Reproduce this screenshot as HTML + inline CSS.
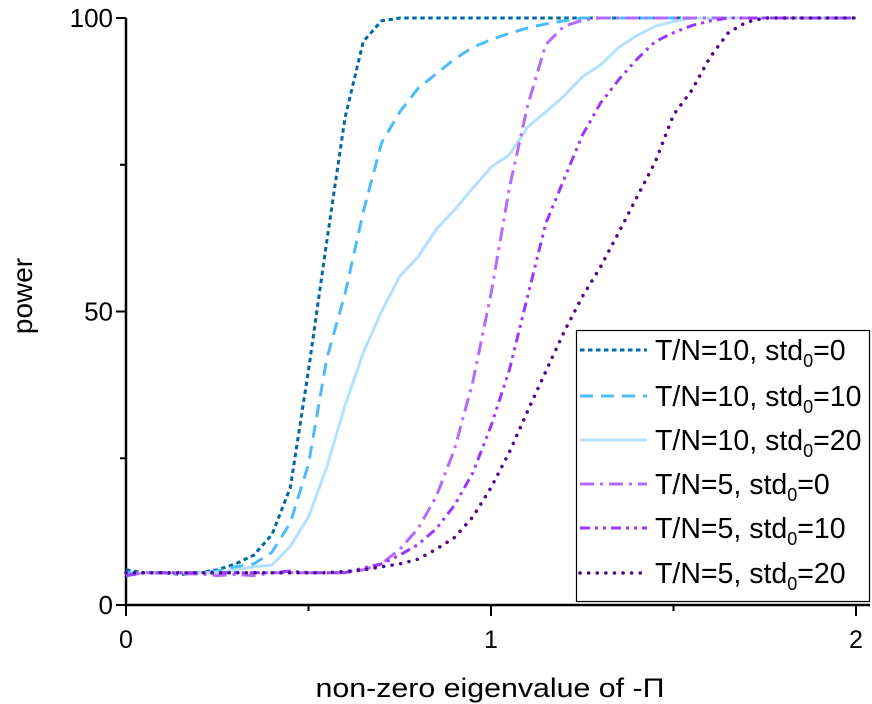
<!DOCTYPE html>
<html><head><meta charset="utf-8"><style>
html,body{margin:0;padding:0;background:#fff;}
svg{display:block;font-family:"Liberation Sans",Arial,sans-serif;}
</style></head><body>
<svg id="chart" width="872" height="704" viewBox="0 0 872 704" xmlns="http://www.w3.org/2000/svg"></svg>
<script>
const xValues = [0,0.05,0.1,0.15,0.2,0.25,0.3,0.35,0.4,0.45,0.5,0.55,0.6,0.65,0.7,0.75,0.8,0.85,0.9,0.95,1.0,1.05,1.1,1.15,1.2,1.25,1.3,1.35,1.4,1.45,1.5,1.55,1.6,1.65,1.7,1.75,1.8,1.85,1.9,1.95,2.0];
const seriesTN10std0  = [6,5.5,5.5,5.2,5.5,6,7,8.5,12,20,40,62,83,96,99.5,100,100,100,100,100,100,100,100,100,100,100,100,100,100,100,100,100,100,100,100,100,100,100,100,100,100];
const seriesTN10std10 = [5.5,5.5,5.5,5.5,5.5,5.8,6.5,7,9,14,24,42,53,67,78.7,84,88,90.5,93,95,96.3,97.4,98.3,99,99.5,100,100,100,100,100,100,100,100,100,100,100,100,100,100,100,100];
const seriesTN10std20 = [5,5.5,5.5,5.5,5.5,5.5,6,6.5,6.8,10,15,23.5,34,43,50,56,59.3,64,67.3,71,74.6,76.7,81.4,84,86.7,90,92,95,97,98.6,99.4,100,100,100,100,100,100,100,100,100,100];
const seriesTN5std0   = [5,5.5,5.5,5.3,5.3,5,5.2,5,5.5,5.5,5.5,5.5,5.5,6,7,9.5,13,18.5,26.5,38,53,71,85,95.5,98.6,99.6,100,100,100,100,100,100,100,100,100,100,100,100,100,100,100];
const seriesTN5std10  = [5,5.5,5.5,5.5,5.5,5.5,5.5,5.5,5.5,5.8,5.5,5.5,5.5,6.3,7,8.5,10.3,13,17,22.5,30.5,40,52.5,65,72.5,80,85.5,89.5,93,96,97.5,98.7,99.5,100,100,100,100,100,100,100,100];
const seriesTN5std20  = [5.5,5.5,5.5,5.5,5.5,5.5,5.5,5.5,5.5,5.5,5.5,5.5,5.7,6,6.5,7,7.8,9.5,11.5,15,20,26,33,39.8,46.5,52.5,57.6,63.5,69.5,75.5,83.5,87.7,93.3,97.5,99.3,100,100,100,100,100,100];
const xTickValues = [0,1,2];
const xTickLabels = ["0","1","2"];
const xMinorTicks = [0.5,1.5];
const yTickValues = [0,50,100];
const yTickLabels = ["0","50","100"];
const yMinorTicks = [25,75];
const legendLabels = ["T/N=10, std", "T/N=10, std", "T/N=10, std", "T/N=5, std", "T/N=5, std", "T/N=5, std"];
const legendSuffix = ["=0","=10","=20","=0","=10","=20"];

const NS = "http://www.w3.org/2000/svg";
const svg = document.getElementById('chart');
const X0 = 126, X1 = 856, Y0 = 605, Y1 = 18;
function xScale(v){ return X0 + (v - 0) / 2 * (X1 - X0); }
function yScale(v){ return Y0 - v / 100 * (Y0 - Y1); }
function mk(tag, attrs, parent){
  const e = document.createElementNS(NS, tag);
  for (const k in attrs) e.setAttribute(k, attrs[k]);
  (parent || svg).appendChild(e);
  return e;
}

const styles = [
  {name:'line-tn10-std0', color:'#0069a8', dash:'4.5,3.5', cap:'butt', w:3},
  {name:'line-tn10-std10', color:'#4cbcff', dash:'13,8', cap:'butt', w:3},
  {name:'line-tn10-std20', color:'#b4e1ff', dash:'', cap:'butt', w:3},
  {name:'line-tn5-std0', color:'#b36bff', dash:'14,6,3,6', cap:'butt', w:3},
  {name:'line-tn5-std10', color:'#9a38ff', dash:'10,5,3,5,3,5', cap:'butt', w:3},
  {name:'line-tn5-std20', color:'#4a0a8c', dash:'0.1,8.5', cap:'round', w:3.5}
];
const allSeries = [seriesTN10std0, seriesTN10std10, seriesTN10std20, seriesTN5std0, seriesTN5std10, seriesTN5std20];

const axes = mk('g', {});


const yAxis = mk('line', {x1:X0, y1:Y1, x2:X0, y2:Y0+1, stroke:'#000', 'stroke-width':2.5}, axes);


const xAxis = mk('line', {x1:X0-1, y1:Y0, x2:X1+14, y2:Y0, stroke:'#000', 'stroke-width':2.5}, axes);



xTickValues.forEach((v,i)=>{
  const t = mk('line', {x1:xScale(v), y1:Y0, x2:xScale(v), y2:Y0+11, stroke:'#000','stroke-width':2}, axes);
  
  
  const l = mk('text', {x:xScale(v), y:648, 'font-size':25, 'text-anchor':'middle', fill:'#000'}, axes);
  l.textContent = xTickLabels[i];
  
  
});
xMinorTicks.forEach(v=>{
  const t = mk('line', {x1:xScale(v), y1:Y0, x2:xScale(v), y2:Y0+6, stroke:'#000','stroke-width':2}, axes);
  
  
});
yTickValues.forEach((v,i)=>{
  const t = mk('line', {x1:X0-10, y1:yScale(v), x2:X0, y2:yScale(v), stroke:'#000','stroke-width':2}, axes);
  
  
  const l = mk('text', {x:X0-13, y:yScale(v)+9, 'font-size':26, 'text-anchor':'end', fill:'#000'}, axes);
  l.textContent = yTickLabels[i];
  
  
});
yMinorTicks.forEach(v=>{
  const t = mk('line', {x1:X0-6, y1:yScale(v), x2:X0, y2:yScale(v), stroke:'#000','stroke-width':2}, axes);
  
  
});
const xt = mk('text', {x:490, y:697, 'font-size':27, 'text-anchor':'middle', fill:'#000', textLength:349, lengthAdjust:'spacingAndGlyphs'});
xt.textContent = 'non-zero eigenvalue of -Π';


const yt = mk('text', {x:0, y:0, 'font-size':28, 'text-anchor':'middle', fill:'#000', transform:'translate(32,296) rotate(-90)'});
yt.textContent = 'power';



const plot = mk('g', {});


allSeries.forEach((s, si)=>{
  const st = styles[si];
  const d = s.map((v,i)=>(i?'L':'M')+xScale(xValues[i]).toFixed(1)+','+yScale(v).toFixed(1)).join(' ');
  const p = mk('path', {d:d, fill:'none', stroke:st.color, 'stroke-width':st.w, 'stroke-dasharray':st.dash, 'stroke-linecap':st.cap, 'stroke-linejoin':'round'}, plot);
  
  
});

const lg = mk('g', {});


const box = mk('rect', {x:576.5, y:330.5, width:293, height:271, fill:'#fff', stroke:'#000', 'stroke-width':1.2}, lg);


const rowY = [350, 396, 440, 484, 528, 573];
legendLabels.forEach((lab, i)=>{
  const st = styles[i];
  const g = mk('g', {}, lg);
  
  
  const ln = mk('line', {x1:580, y1:rowY[i], x2:647, y2:rowY[i], stroke:st.color, 'stroke-width':st.w, 'stroke-dasharray':st.dash, 'stroke-linecap':st.cap}, g);
  
  
  const t = mk('text', {x:655, y:rowY[i]+10, 'font-size':28.5, fill:'#000'}, g);
  
  
  t.appendChild(document.createTextNode(lab));
  const sub = mk('tspan', {'font-size':18, dy:7}, t);
  sub.textContent = '0';
  const rest = mk('tspan', {dy:-7}, t);
  rest.textContent = legendSuffix[i];
});
</script>
</body></html>
